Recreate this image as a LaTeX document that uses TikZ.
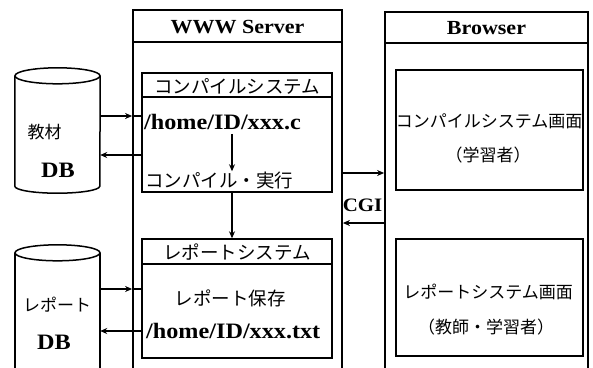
\documentclass[tikz,border=0pt]{standalone}
\usepackage{fontspec}
\setmainfont{Liberation Serif}[FakeStretch=1.1]
\newfontfamily\jp{Noto Sans CJK JP}
\usetikzlibrary{arrows.meta}
\begin{document}
\begin{tikzpicture}[x=1pt,y=-1pt,
  outerbox/.style={draw,line width=1.8pt,rectangle,inner sep=0pt},
  innerbox/.style={draw,line width=1.4pt,rectangle,inner sep=0pt},
  sep/.style={line width=1.1pt},
  hdr/.style={font=\bfseries\fontsize{20}{20}\selectfont,inner sep=0pt},
  lat/.style={font=\bfseries\fontsize{22}{22}\selectfont,inner sep=0pt},
  jps/.style={font=\jp\fontsize{18.5}{18.5}\selectfont,inner sep=0pt},
  jpb/.style={font=\jp\fontsize{17}{17}\selectfont,inner sep=0pt},
  conn/.style={line width=1.2pt},
  arr/.style={line width=1.2pt,-{Stealth[length=7pt,width=6pt]}},
  cyl/.style={line width=1.5pt},
  ghost/.style={rectangle,inner sep=0pt}]
\useasboundingbox (0,0) rectangle (593,367);
\clip (0,0) rectangle (593,367);

% outer boxes
\node[outerbox,minimum width=209pt,minimum height=375pt] (server) at (237.5,197.5) {};
\node[outerbox,minimum width=203pt,minimum height=373pt] (browser) at (486.5,198.5) {};
\draw[sep] (server.west |- 0,42) -- (server.east |- 0,42);
\draw[sep] (browser.west |- 0,43) -- (browser.east |- 0,43);
\node[hdr] (wwwt) at (237.5,27) {WWW Server};
\node[hdr] (brt) at (486.5,28) {Browser};

% server inner boxes
\node[innerbox,minimum width=190pt,minimum height=119pt] (comp) at (237,132.5) {};
\draw[sep] (comp.west |- 0,97) -- (comp.east |- 0,97);
\node[jps] (compt) at (237,86) {コンパイルシステム};
\node[lat,anchor=west] (cfile) at (144,122) {/home/ID/xxx.c};
\node[jps,anchor=west] (cexec) at (145,180) {コンパイル・実行};

\node[innerbox,minimum width=190pt,minimum height=119pt] (rep) at (237,298.5) {};
\draw[sep] (rep.west |- 0,264) -- (rep.east |- 0,264);
\node[jps] (rept) at (237,252) {レポートシステム};
\node[jps] (rsave) at (230,298) {レポート保存};
\node[lat,anchor=west] (rfile) at (146,331) {/home/ID/xxx.txt};

% browser inner boxes
\node[innerbox,minimum width=187pt,minimum height=120pt] (bcomp) at (489.5,130) {};
\node[jpb] (bct) at (489,121) {コンパイルシステム画面};
\node[jpb] (bcl) at (488,155) {（学習者）};
\node[innerbox,minimum width=187pt,minimum height=117pt] (brep) at (489.5,297.5) {};
\node[jpb] (brt2) at (488,292) {レポートシステム画面};
\node[jpb] (brl) at (486,327) {（教師・学習者）};

% databases
\node[ghost,minimum width=85pt,minimum height=110pt] (db1) at (57.5,131) {};
\draw[cyl] (db1.north) ellipse [x radius=42.5pt, y radius=8pt];
\draw[cyl] (db1.north west) -- (db1.south west)
  arc[start angle=180,end angle=360,x radius=42.5pt,y radius=7pt] -- (db1.north east);
\node[jpb] (db1a) at (44.5,132) {教材};
\node[lat] (db1b) at (58,170) {DB};

\node[ghost,minimum width=85pt,minimum height=130pt] (db2) at (57.5,318) {};
\draw[cyl] (db2.north) ellipse [x radius=42.5pt, y radius=8pt];
\draw[cyl] (db2.north west) -- (db2.south west);
\draw[cyl] (db2.north east) -- (db2.south east);
\node[jpb] (db2a) at (57,305) {レポート};
\node[lat] (db2b) at (54,342) {DB};

% connectors DB <-> server
\coordinate (s1) at (server.west |- 0,116);
\draw[arr] (db1.east |- s1) -- (s1);
\draw[conn] (s1) -- (comp.west |- s1);
\draw[arr] (comp.west |- 0,155) -- (db1.east |- 0,155);
\coordinate (s2) at (server.west |- 0,289);
\draw[arr] (db2.east |- s2) -- (s2);
\draw[conn] (s2) -- (rep.west |- s2);
\draw[arr] (rep.west |- 0,331) -- (db2.east |- 0,331);

% inner arrows
\draw[arr] (cfile.south -| 232,0) ++(0,4) -- (cexec.north -| 232,0);
\draw[arr] (comp.south -| 232,0) -- (rep.north -| 232,0);

% CGI
\draw[arr] (server.east |- 0,173) -- (browser.west |- 0,173);
\draw[arr] (browser.west |- 0,223) -- (server.east |- 0,223);
\node[lat,font=\bfseries\fontsize{19}{19}\selectfont] (cgi) at (362.5,205) {CGI};
\end{tikzpicture}
\end{document}
